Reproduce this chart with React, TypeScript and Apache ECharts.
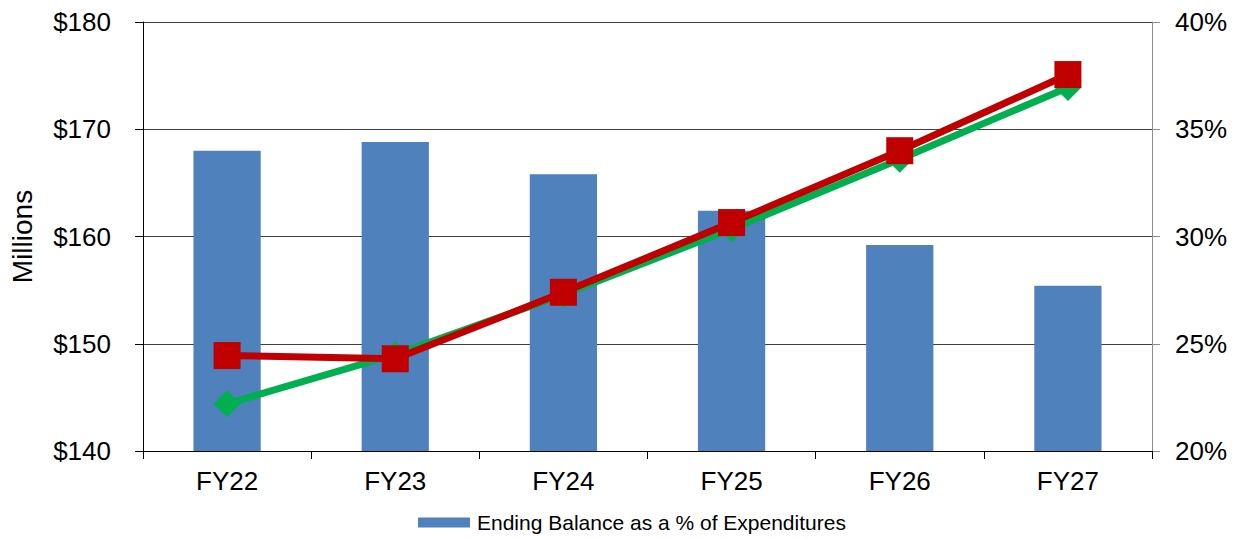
import React, { useEffect, useRef } from "react";
import * as echarts from "echarts";

const categories = ["FY22", "FY23", "FY24", "FY25", "FY26", "FY27"];
const endingBalancePct = [34.0, 34.4, 32.9, 31.2, 29.6, 27.7];
const revenues = [144.4, 149.0, 154.6, 160.7, 167.2, 173.9];
const expenditures = [148.9, 148.6, 154.8, 161.3, 168.0, 175.1];
const leftTicks = { min: 140, max: 180, interval: 10 };
const rightTicks = { min: 20, max: 40, interval: 5 };

const FONT = "'Liberation Sans', Arial, sans-serif";

export default function App() {
  const ref = useRef<HTMLDivElement>(null);
  useEffect(() => {
    if (!ref.current) return;
    const chart = echarts.init(ref.current, null, { renderer: "svg" });
    chart.setOption({
      animation: false,
      backgroundColor: "#ffffff",
      textStyle: { fontFamily: FONT },
      grid: { left: 142, right: 87, top: 22, bottom: 88, containLabel: false },
      legend: {
        data: ["Ending Balance as a % of Expenditures"],
        left: 418,
        top: 512,
        padding: 0,
        itemWidth: 52,
        itemHeight: 10,
        itemGap: 20,
        textStyle: { fontSize: 21, color: "#000", fontFamily: FONT, padding: [0, 0, 0, 2] },
        icon: "rect",
      },
      xAxis: {
        type: "category",
        data: categories,
        boundaryGap: true,
        axisLine: { show: true, lineStyle: { color: "#000", width: 1 } },
        axisTick: { show: true, length: 8, inside: false, lineStyle: { color: "#000" } },
        axisLabel: { fontSize: 26, color: "#000", margin: 17, fontFamily: FONT },
        splitLine: { show: false },
      },
      yAxis: [
        {
          type: "value",
          min: leftTicks.min,
          max: leftTicks.max,
          interval: leftTicks.interval,
          position: "left",
          name: "Millions",
          nameLocation: "middle",
          nameGap: 107,
          nameTextStyle: { fontSize: 28, color: "#000", fontFamily: FONT },
          axisLine: { show: true, lineStyle: { color: "#000", width: 1 } },
          axisTick: { show: true, length: 8, lineStyle: { color: "#000" } },
          axisLabel: {
            fontSize: 26,
            color: "#000",
            margin: 32,
            fontFamily: FONT,
            formatter: (v: number) => "$" + v,
          },
          splitLine: { show: true, lineStyle: { color: "#404040", width: 1 } },
        },
        {
          type: "value",
          min: rightTicks.min,
          max: rightTicks.max,
          interval: rightTicks.interval,
          position: "right",
          axisLine: { show: true, lineStyle: { color: "#8c8c8c", width: 1 } },
          axisTick: { show: true, length: 8, lineStyle: { color: "#8c8c8c" } },
          axisLabel: {
            fontSize: 26,
            color: "#000",
            margin: 23,
            fontFamily: FONT,
            formatter: (v: number) => v + "%",
          },
          splitLine: { show: false },
        },
      ],
      series: [
        {
          name: "Ending Balance as a % of Expenditures",
          type: "bar",
          yAxisIndex: 1,
          data: endingBalancePct,
          barWidth: "40%",
          itemStyle: { color: "#4F81BD" },
          z: 1,
        },
        {
          name: "Revenues",
          type: "line",
          yAxisIndex: 0,
          data: revenues,
          symbol: "diamond",
          symbolSize: 27,
          showAllSymbol: true,
          lineStyle: { color: "#00B050", width: 7 },
          itemStyle: { color: "#00B050" },
          z: 3,
        },
        {
          name: "Expenditures",
          type: "line",
          yAxisIndex: 0,
          data: expenditures,
          symbol: "rect",
          symbolSize: 27,
          showAllSymbol: true,
          lineStyle: { color: "#C00000", width: 7 },
          itemStyle: { color: "#C00000" },
          z: 4,
        },
      ],
    });
    return () => chart.dispose();
  }, []);
  return (
    <div
      ref={ref}
      style={{ position: "fixed", left: 0, top: 0, width: 1239, height: 539, background: "#fff" }}
    />
  );
}
